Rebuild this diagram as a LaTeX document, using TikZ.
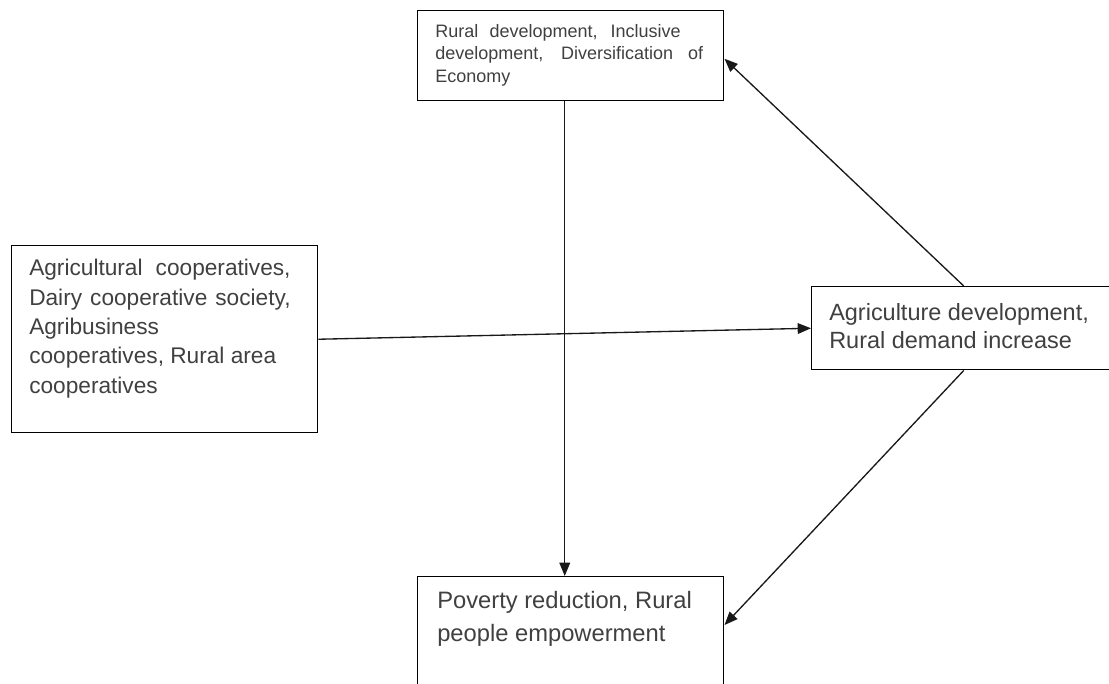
\documentclass[tikz,border=0pt]{standalone}
\usepackage{fontspec}
\setmainfont{Liberation Sans}
\usetikzlibrary{arrows.meta,calc}

% a line whose word spaces are stretched to the given width
\newcommand\fullline[2]{\makebox[#1][s]{#2}}

\begin{document}
\begin{tikzpicture}[x=0.75pt,y=-0.75pt,
  box/.style={draw=black, line width=1.1pt, inner sep=0pt, anchor=north west},
  txt/.style={inner sep=0pt, anchor=north west, align=left, text=black!75},
  link/.style={draw=black!90, line width=1pt, -{Triangle[length=10pt,width=8pt]}}]

\useasboundingbox (0,0) rectangle (1109,683);

% boxes
\node[box, minimum width=229.5pt, minimum height=67.5pt]  (goal) at (417,10)  {};
\node[box, minimum width=229.5pt, minimum height=140.25pt](coop) at (11,245)  {};
\node[box, minimum width=228pt,   minimum height=62.25pt](agri) at (811,286) {};
\node[box, minimum width=229.5pt, minimum height=93pt]    (pov)  at (417,576) {};

% box texts
\node[txt, font=\fontsize{13.5pt}{17pt}\selectfont] (goaltext) at (435,24)
  {\fullline{184pt}{Rural development, Inclusive}\\
   \fullline{201pt}{development, Diversification of}\\
   Economy};

\node[txt, font=\fontsize{17pt}{22pt}\selectfont] (cooptext) at (29,259)
  {\fullline{196pt}{Agricultural cooperatives,}\\
   \fullline{196pt}{Dairy cooperative society,}\\
   Agribusiness\\
   cooperatives, Rural area\\
   cooperatives};

\node[txt, font=\fontsize{17.6pt}{21pt}\selectfont] (agritext) at (829,303)
  {Agriculture development,\\ Rural demand increase};

\node[txt, font=\fontsize{17.8pt}{24.5pt}\selectfont] (povtext) at (437,591)
  {Poverty reduction, Rural\\ people empowerment};

% connectors
\draw[link] ($(goal.south)+(-6,0)$) -- ($(pov.north)+(-6,0)$);
\draw[link] (coop.east) -- (agri.west);
\draw[link] (agri.north) -- ($(goal.east)+(0,3)$);
\draw[link] (agri.south) -- ($(pov.north east)+(0,49)$);

\end{tikzpicture}
\end{document}
